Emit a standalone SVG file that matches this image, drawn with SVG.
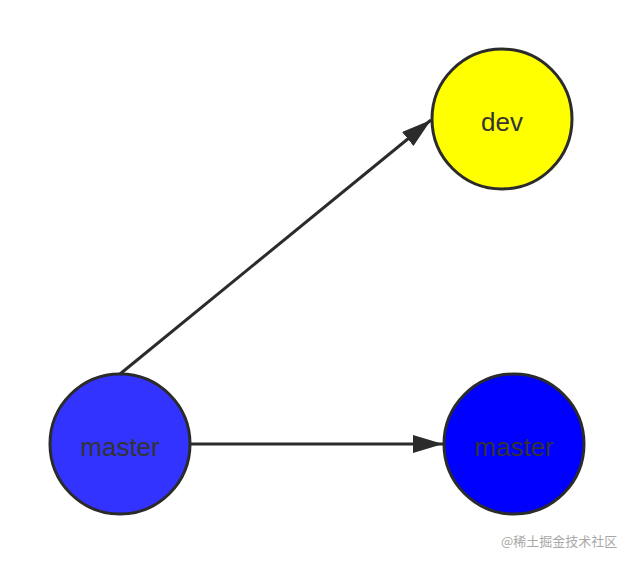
<svg xmlns="http://www.w3.org/2000/svg" width="634" height="564" viewBox="0 0 634 564">
<style>
.node{stroke:#2b2b2b;stroke-width:3}
.lbl{font-family:"Liberation Sans",Arial,sans-serif;font-size:26px;fill:#333;text-anchor:middle;dominant-baseline:central}
.edge{stroke:#2b2b2b;stroke-width:3;fill:none}
.wm{font-family:"Noto Sans CJK SC","Liberation Sans",sans-serif;font-size:13px;fill:#a8a8a8}
</style>
<defs>
<marker id="arr" viewBox="0 0 30 18" refX="30" refY="9" markerWidth="30" markerHeight="18" markerUnits="userSpaceOnUse" orient="auto">
<path d="M0,0 L30,9 L0,18 Z" fill="#2b2b2b"/>
</marker>
</defs>
<rect width="634" height="564" fill="#fff"/>
<g id="connectors">
<line class="edge" x1="120" y1="374" x2="431" y2="120" marker-end="url(#arr)"/>
<line class="edge" x1="191" y1="444" x2="443" y2="444" marker-end="url(#arr)"/>
</g>
<g id="dev">
<circle class="node" cx="502" cy="119" r="70" fill="#ffff00"/>
<text class="lbl" x="502" y="122">dev</text>
</g>
<g id="master-old">
<circle class="node" cx="120" cy="444" r="70" fill="#3333ff"/>
<text class="lbl" x="120" y="447">master</text>
</g>
<g id="master-new">
<circle class="node" cx="514" cy="444" r="70" fill="#0000ff"/>
<text class="lbl" x="514" y="447">master</text>
</g>
<text class="wm" x="501" y="546">@稀土掘金技术社区</text>
</svg>
